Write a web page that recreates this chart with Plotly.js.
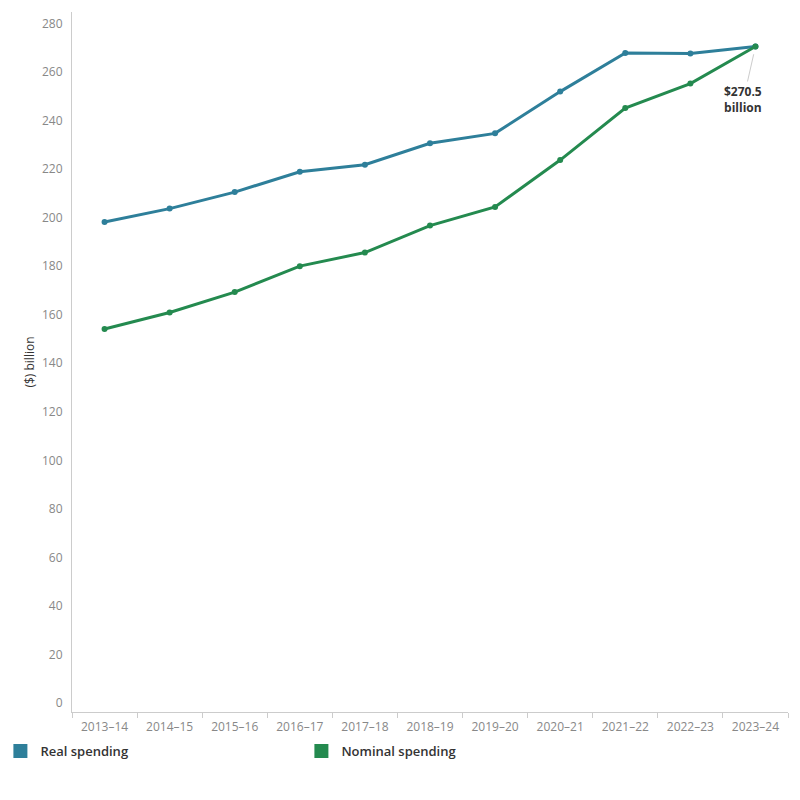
<!DOCTYPE html>
<html>
<head>
<meta charset="utf-8">
<script src="https://cdn.plot.ly/plotly-3.0.1.min.js"></script>
<style>html,body{margin:0;padding:0;background:#fff}#chart{width:800px;height:800px}</style>
</head>
<body>
<div id="chart"></div>
<script>
var years = ["2013–14","2014–15","2015–16","2016–17","2017–18","2018–19","2019–20","2020–21","2021–22","2022–23","2023–24"];
var realSpending = [198.2, 203.7, 210.5, 218.9, 221.8, 230.6, 234.7, 251.9, 267.8, 267.6, 270.5];
var nominalSpending = [154.1, 160.9, 169.3, 180.0, 185.6, 196.7, 204.4, 223.7, 245.1, 255.2, 270.5];
var seriesNames = ["Real spending", "Nominal spending"];
var yTicks = [0,20,40,60,80,100,120,140,160,180,200,220,240,260,280];
var labelYear = "2023–24";
var labelValue = 270.5;

var realColor = "#2e7f9a";
var nomColor = "#248a4f";
var font = "'Open Sans', 'Noto Sans', sans-serif";

var traces = [
  {x: years, y: realSpending, type: "scatter", mode: "lines+markers", name: seriesNames[0],
   line: {color: realColor, width: 3}, marker: {color: realColor, size: 6}, showlegend: false, legendgroup: "r", hoverinfo: "x+y"},
  {x: years, y: nominalSpending, type: "scatter", mode: "lines+markers", name: seriesNames[1],
   line: {color: nomColor, width: 3}, marker: {color: nomColor, size: 6}, showlegend: false, legendgroup: "n", hoverinfo: "x+y"},
  {x: [null], y: [null], type: "scatter", mode: "markers", name: seriesNames[0], legendgroup: "r",
   marker: {color: realColor, symbol: "square", size: 14}},
  {x: [null], y: [null], type: "scatter", mode: "markers", name: seriesNames[1], legendgroup: "n",
   marker: {color: nomColor, symbol: "square", size: 14}}
];

var layout = {
  width: 800, height: 800,
  margin: {l: 72, r: 12, t: 12, b: 88, autoexpand: false},
  paper_bgcolor: "#fff", plot_bgcolor: "#fff",
  font: {family: font, size: 12, color: "#888"},
  xaxis: {
    type: "category", range: [-0.5, years.length - 0.5], autorange: false,
    tickson: "boundaries", ticks: "outside", ticklen: 5, tickcolor: "#ccc",
    showline: true, linecolor: "#ccc", linewidth: 1, showgrid: false, zeroline: false,
    ticklabelstandoff: 4, automargin: false,
    tickfont: {family: font, size: 12, color: "#888"}, fixedrange: true
  },
  yaxis: {
    range: [-3.7, 284.7], autorange: false, tickvals: yTicks, ticktext: yTicks.map(String),
    showline: true, linecolor: "#ccc", linewidth: 1, showgrid: false, zeroline: false,
    ticks: "", ticklabelstandoff: 6, automargin: false,
    tickfont: {family: font, size: 12, color: "#888"},
    title: {text: "($) billion", font: {family: font, size: 12, color: "#333"}, standoff: 4}
  },
  legend: {
    orientation: "h", x: -0.100, xanchor: "left", y: -0.0343, yanchor: "top",
    font: {family: font, size: 13, color: "#333", weight: 600},
    entrywidth: 256, entrywidthmode: "pixels", itemclick: false
  },
  annotations: [{
    x: labelYear, y: labelValue, xref: "x", yref: "y",
    text: "<b>$" + labelValue.toFixed(1) + "<br>billion</b>",
    showarrow: true, arrowhead: 0, arrowwidth: 1, arrowcolor: "#ccc",
    ax: -12, ay: 53, standoff: 8,
    font: {family: font, size: 12, color: "#333"}
  }],
  showlegend: true
};

Plotly.newPlot("chart", traces, layout, {displayModeBar: false, staticPlot: true});
</script>
</body>
</html>
